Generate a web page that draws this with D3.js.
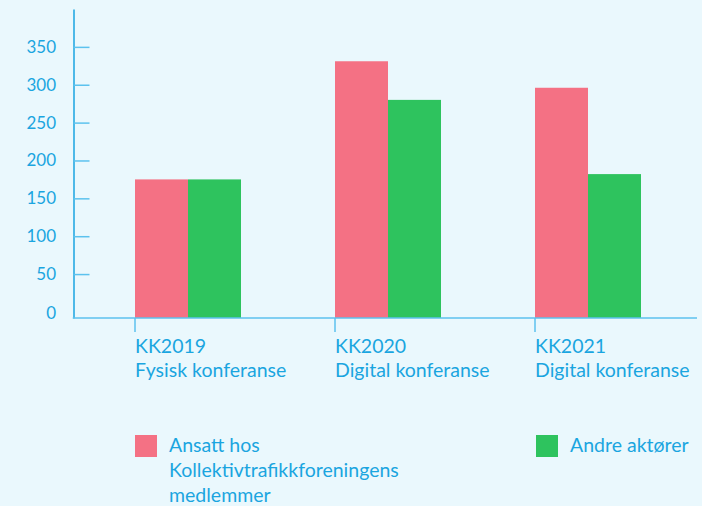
<!DOCTYPE html>
<html>
<script src="https://d3js.org/d3.v7.min.js"></script>

<head>
    <style>
        body {
            margin: 0;
            background-color: #eaf8fd;
            font-family: Lato, "Open Sans", sans-serif;
        }
    </style>
</head>

<body>
</body>
<script>
    // data
    const categories = ["KK2019", "KK2020", "KK2021"];
    const subtitles = ["Fysisk konferanse", "Digital konferanse", "Digital konferanse"];
    const seriesNames = ["Ansatt hos Kollektivtrafikkforeningens medlemmer", "Andre aktører"];
    const members = [175, 331, 296];
    const others = [175, 280, 182];
    const yTicks = [0, 50, 100, 150, 200, 250, 300, 350];

    const width = 702,
        height = 506;
    const blue = "#1aa5e0",
        tickBlue = "#5cc2ee",
        colors = ["#f47184", "#2ec35e"];

    const svg = d3.select("body").append("svg").attr("width", width).attr("height", height);

    const left = 73.5,
        base = 318;

    const y = d3.scaleLinear()
        .domain([-8, 400])
        .range([base, 9]);
    const x = d3.scaleBand()
        .domain(categories)
        .range([135, 735]);
    const xs = d3.scaleBand()
        .domain(seriesNames)
        .range([0, 106]);

    const rows = categories.map((c, i) => ({
        cat: c,
        values: [members[i], others[i]]
    }));

    // bars
    const groups = svg.selectAll("g.grp")
        .data(rows)
        .join("g")
        .attr("transform", d => `translate(${x(d.cat)},0)`);
    groups.selectAll("rect")
        .data(d => d.values.map((v, j) => ({ name: seriesNames[j], v: v, j: j })))
        .join("rect")
        .attr("x", d => xs(d.name))
        .attr("width", xs.bandwidth())
        .attr("y", d => y(d.v))
        .attr("height", d => base - y(d.v))
        .attr("fill", d => colors[d.j]);

    // y axis
    const yAxis = svg.append("g")
        .attr("transform", `translate(${left},0)`)
        .call(d3.axisLeft(y).tickValues(yTicks).tickSize(-16).tickSizeOuter(0).tickPadding(17.5));
    yAxis.select(".domain").attr("stroke", blue).attr("stroke-width", 1.5);
    yAxis.selectAll(".tick line").attr("stroke", tickBlue).attr("stroke-width", 1.5)
        .filter(d => d === 0).remove();
    yAxis.selectAll(".tick text")
        .attr("fill", blue)
        .attr("font-size", "17px")
        .attr("font-family", "Lato, sans-serif")
        .attr("dy", d => d === 0 ? "0.4em" : "0.32em");

    // x axis
    svg.append("line")
        .attr("x1", left - 0.75).attr("x2", 697)
        .attr("y1", base).attr("y2", base)
        .attr("stroke", tickBlue).attr("stroke-width", 1.5);
    svg.selectAll("line.xt")
        .data(categories)
        .join("line")
        .attr("class", "xt")
        .attr("x1", d => x(d)).attr("x2", d => x(d))
        .attr("y1", base).attr("y2", base + 14)
        .attr("stroke", tickBlue).attr("stroke-width", 1.5);
    const xl = svg.selectAll("text.xl")
        .data(categories)
        .join("text")
        .attr("class", "xl")
        .attr("x", d => x(d))
        .attr("y", 353)
        .attr("fill", blue)
        .attr("font-size", "19.5px");
    xl.append("tspan").text(d => d);
    xl.append("tspan").attr("x", d => x(d)).attr("dy", 23.5).text((d, i) => subtitles[i]);

    // legend
    const legendLines = [["Ansatt hos", "Kollektivtrafikkforeningens", "medlemmer"], ["Andre aktører"]];
    const legendX = [135, 536];
    const lg = svg.selectAll("g.lg")
        .data(seriesNames)
        .join("g")
        .attr("transform", (d, i) => `translate(${legendX[i]},435)`);
    lg.append("rect")
        .attr("width", 22).attr("height", 22)
        .attr("fill", (d, i) => colors[i]);
    const lt = lg.append("text")
        .attr("x", 34)
        .attr("y", 17)
        .attr("fill", blue)
        .attr("font-size", "19.5px");
    lt.selectAll("tspan")
        .data((d, i) => legendLines[i])
        .join("tspan")
        .attr("x", 34)
        .attr("dy", (d, i) => i === 0 ? 0 : 25)
        .text(d => d);
</script>

</html>
